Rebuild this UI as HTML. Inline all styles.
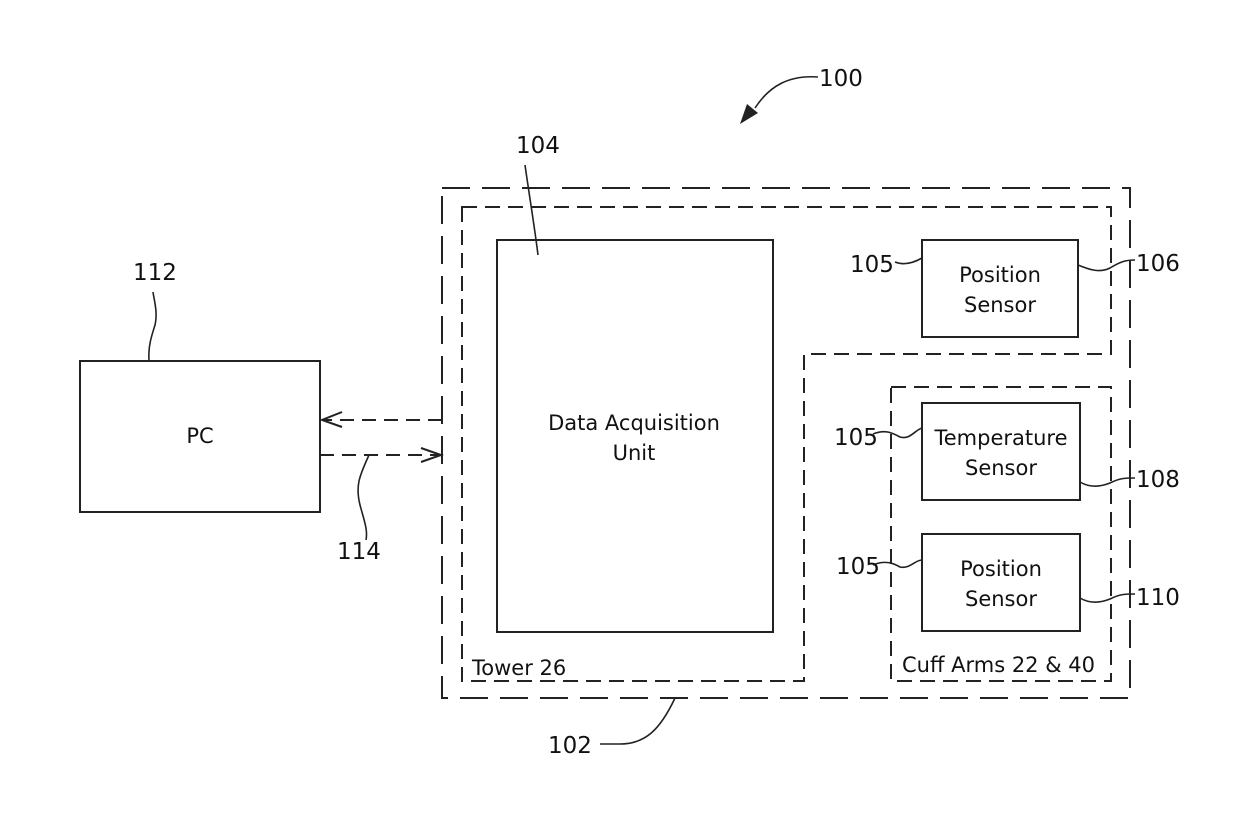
<!DOCTYPE html>
<html><head><meta charset="utf-8"><style>body{margin:0;background:#fff}svg{display:block}text{font-family:"DejaVu Sans","Liberation Sans",sans-serif;fill:#111}</style></head><body>
<svg width="1240" height="829" viewBox="0 0 1240 829" xmlns="http://www.w3.org/2000/svg">
<g fill="none" stroke="#222" stroke-width="2">
<rect x="442" y="188" width="688" height="510" stroke-dasharray="28,12"/>
<path d="M462,207 H1111 V354 H804 V681 H462 Z" stroke-dasharray="15,8"/>
<rect x="891" y="387" width="220" height="294" stroke-dasharray="15,8"/>
<rect x="497" y="240" width="276" height="392"/>
<rect x="922" y="240" width="156" height="97"/>
<rect x="922" y="403" width="158" height="97"/>
<rect x="922" y="534" width="158" height="97"/>
<rect x="80" y="361" width="240" height="151"/>
<path d="M442,420 H322" stroke-dasharray="14,8"/>
<path d="M342,412 L322,420 L342,427"/>
<path d="M320,455 H440" stroke-dasharray="14,8"/>
<path d="M421,448 L441,455 L421,462"/>
<g stroke-width="1.6">
<path d="M369,455 C360,475 355,485 360,505 C364,520 368,530 366,540"/>
<path d="M149,361 C148,345 152,335 155,325 C158,312 154,300 153,292"/>
<path d="M538,255 C535,230 530,200 525,165"/>
<path d="M818,77 C790,75 770,85 755,108"/>
<path d="M675,698 C660,730 645,744 620,744 H600"/>
<path d="M895,262 C905,266 915,262 922,258"/>
<path d="M1078,265 C1090,270 1100,273 1110,268 C1120,262 1125,260 1135,260"/>
<path d="M873,434 C885,429 893,433 900,437 C910,440 915,430 922,428"/>
<path d="M1080,482 C1090,488 1100,487 1110,483 C1120,478 1125,478 1135,478"/>
<path d="M873,565 C885,560 893,563 900,567 C910,569 915,560 922,560"/>
<path d="M1080,598 C1090,604 1100,603 1110,599 C1120,594 1125,594 1135,594"/>
</g>
</g>
<path d="M740,124 L747,104 L758,113 Z" fill="#222"/>
<g font-size="23">
<text x="819" y="86">100</text>
<text x="516" y="153">104</text>
<text x="133" y="280">112</text>
<text x="850" y="272">105</text>
<text x="1136" y="271">106</text>
<text x="834" y="445">105</text>
<text x="1136" y="487">108</text>
<text x="836" y="574">105</text>
<text x="1136" y="605">110</text>
<text x="337" y="559">114</text>
<text x="548" y="753">102</text>
</g>
<g font-size="21" text-anchor="middle">
<text x="200" y="443">PC</text>
<text x="634" y="430">Data Acquisition</text>
<text x="634" y="460">Unit</text>
<text x="1000" y="282">Position</text>
<text x="1000" y="312">Sensor</text>
<text x="1001" y="445">Temperature</text>
<text x="1001" y="475">Sensor</text>
<text x="1001" y="576">Position</text>
<text x="1001" y="606">Sensor</text>
</g>
<g font-size="21">
<text x="472" y="675">Tower 26</text>
<text x="902" y="672">Cuff Arms 22 &amp; 40</text>
</g>
</svg>
</body></html>
